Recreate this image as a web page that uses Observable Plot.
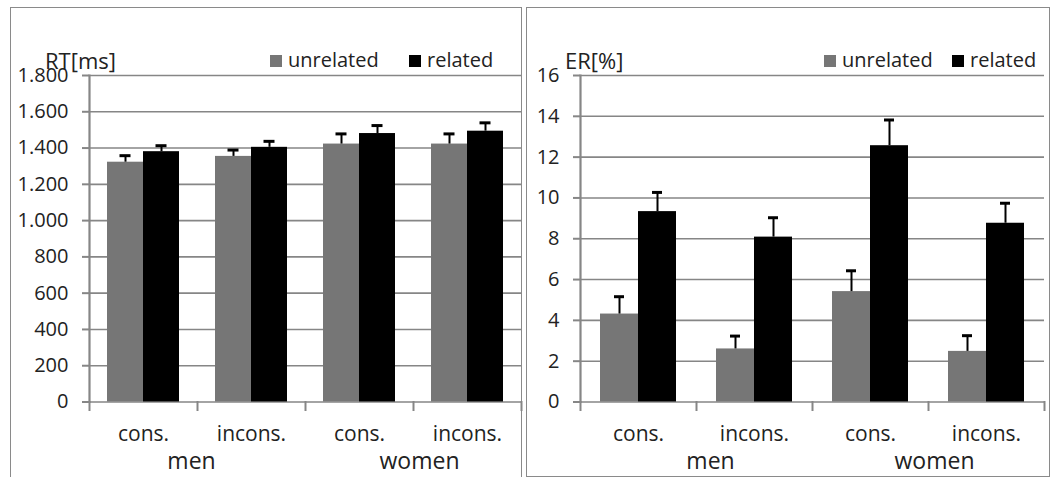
<!DOCTYPE html>
<html><head><meta charset="utf-8">
<script src="https://cdn.jsdelivr.net/npm/d3@7"></script>
<script src="https://cdn.jsdelivr.net/npm/@observablehq/plot@0.6"></script>
<style>
html,body{margin:0;padding:0;background:#fff;}
body{width:1060px;height:477px;overflow:hidden;position:relative;font-family:"Open Sans",sans-serif;color:#222;}
.panel{position:absolute;border:1.5px solid #8a8a8a;box-sizing:border-box;}
.chart{position:absolute;top:0;}
.ttl{position:absolute;font-size:22px;line-height:20px;white-space:nowrap;}
.lg{position:absolute;font-size:20px;line-height:20px;white-space:nowrap;}
.sw{display:inline-block;width:12px;height:12px;margin-right:6px;vertical-align:baseline;}
</style></head><body>
<script>
// ---- data ----
const categories = ["men cons.", "men incons.", "women cons.", "women incons."];
const categoryLabels = ["cons.", "incons.", "cons.", "incons."];
const groups = ["men", "women"];
const groupFirstCategory = ["men cons.", "women cons."];
const conditions = ["unrelated", "related"];
const conditionColors = ["#767676", "#000000"];

const rtUnrelated = [1322, 1354, 1422, 1422];
const rtRelated = [1380, 1404, 1480, 1493];
const rtUnrelatedErr = [36, 35, 56, 56];
const rtRelatedErr = [33, 33, 44, 46];
const rtTicks = [0, 200, 400, 600, 800, 1000, 1200, 1400, 1600, 1800];

const erUnrelated = [4.31, 2.6, 5.41, 2.48];
const erRelated = [9.33, 8.08, 12.56, 8.76];
const erUnrelatedErr = [0.85, 0.63, 1.02, 0.77];
const erRelatedErr = [0.94, 0.95, 1.26, 0.98];
const erTicks = [0, 2, 4, 6, 8, 10, 12, 14, 16];

const deLocale = d3.formatLocale({decimal: ",", thousands: ".", grouping: [3], currency: ["", " €"]});
const fmtRT = deLocale.format(",");
const fmtER = d3.format("d");

const GRID = "#868686", TEXT = "#222";
const H = 477, TOP = 75, BOTTOM = 401.5;

function buildPanel({values, errors, ticks, fmt, left, width, marginLeft, marginRight, capInset, groupDx}) {
  const rows = [];
  categories.forEach((c, i) => conditions.forEach((k, j) => {
    rows.push({cat: c, cond: k, v: values[j][i], hi: values[j][i] + errors[j][i]});
  }));
  const plotH = BOTTOM - TOP;
  const groupMarks = groups.map((g, i) => Plot.text([{cat: groupFirstCategory[i], label: g}], {
    fx: "cat", text: "label", frameAnchor: "bottom-right", textAnchor: "middle",
    dy: 67, dx: groupDx[i], fill: TEXT, fontSize: 23
  }));
  const svg = Plot.plot({
    width, height: H,
    marginLeft, marginRight, marginTop: TOP, marginBottom: H - BOTTOM,
    style: {fontFamily: "'Open Sans', sans-serif", fontSize: "20px", color: TEXT, background: "transparent", overflow: "visible"},
    fx: {domain: categories, padding: 0, axis: null, label: null},
    x: {domain: conditions, paddingInner: 0, paddingOuter: 0.5, axis: null},
    y: {domain: [ticks[0], ticks[ticks.length - 1]], axis: null},
    color: {domain: conditions, range: conditionColors},
    marks: [
      Plot.gridY(ticks, {stroke: GRID, strokeOpacity: 1, strokeWidth: 1.6}),
      Plot.barY(rows, {fx: "cat", x: "cond", y: "v", fill: "cond"}),
      Plot.ruleX(rows, {fx: "cat", x: "cond", y1: "v", y2: "hi", stroke: "#000", strokeWidth: 2}),
      Plot.tickY(rows, {fx: "cat", x: "cond", y: "hi", stroke: "#000", strokeWidth: 3, insetLeft: capInset, insetRight: capInset}),
      Plot.frame({anchor: "left", facetAnchor: "left", stroke: GRID, strokeWidth: 2.2}),
      Plot.frame({anchor: "left", stroke: GRID, strokeWidth: 2, insetTop: plotH, insetBottom: -8}),
      Plot.frame({anchor: "right", facetAnchor: "right", stroke: GRID, strokeWidth: 2, insetTop: plotH, insetBottom: -8}),
      Plot.axisY(ticks, {anchor: "left", tickSize: 7, tickFormat: () => "", stroke: GRID, strokeWidth: 2, label: null}),
      Plot.text(ticks, {y: d => d, text: fmt, frameAnchor: "left", facetAnchor: "left", textAnchor: "end", dx: -21, fill: TEXT, fontSize: 20}),
      Plot.axisFx({anchor: "bottom", tickSize: 0, tickPadding: 24, tickFormat: d => categoryLabels[categories.indexOf(d)], fill: TEXT, fontSize: 21, label: null}),
      ...groupMarks
    ]
  });
  svg.classList.add("chart");
  svg.style.left = left + "px";
  document.body.appendChild(svg);
}

function addDiv(cls, css, html) {
  const d = document.createElement("div");
  d.className = cls;
  Object.assign(d.style, css);
  d.innerHTML = html;
  document.body.appendChild(d);
}

// panel frames
addDiv("panel", {left: "10px", top: "7px", width: "512px", height: "480px"}, "");
addDiv("panel", {left: "526px", top: "7px", width: "524px", height: "470px"}, "");

buildPanel({values: [rtUnrelated, rtRelated], errors: [rtUnrelatedErr, rtRelatedErr], ticks: rtTicks, fmt: fmtRT,
  left: 0, width: 530, marginLeft: 89, marginRight: 8.5, capInset: 12.5, groupDx: [-6, 6]});
buildPanel({values: [erUnrelated, erRelated], errors: [erUnrelatedErr, erRelatedErr], ticks: erTicks, fmt: fmtER,
  left: 530, width: 530, marginLeft: 49, marginRight: 14.5, capInset: 14, groupDx: [14, 6]});

// axis titles
addDiv("ttl", {left: "45px", top: "50px"}, "RT[ms]");
addDiv("ttl", {left: "565px", top: "50px"}, "ER[%]");

// legends
const legendPos = [[270, 409], [824, 952]];
legendPos.forEach(pos => {
  conditions.forEach((c, j) => {
    addDiv("lg", {left: pos[j] + "px", top: "50px"},
      `<span class="sw" style="background:${conditionColors[j]}"></span>${c}`);
  });
});
</script>
</body></html>
